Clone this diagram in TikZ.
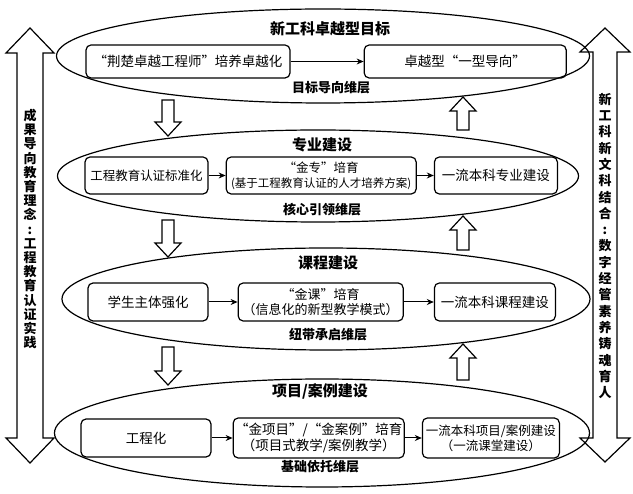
\documentclass[tikz,border=0pt]{standalone}
\usepackage{fontspec}
\setmainfont{Noto Sans CJK SC}
\usetikzlibrary{shapes,arrows.meta,positioning}
\tikzstyle{layer} = [ellipse, draw, line width=1.2pt, inner sep=0pt]
\tikzstyle{box}   = [rectangle, rounded corners=5pt, draw, line width=1.2pt,
                     align=center, inner sep=0pt, font=\fontsize{13.5}{15.5}\selectfont]
\tikzstyle{small} = [font=\fontsize{12.5}{15}\selectfont]
\tikzstyle{ptr}   = [draw, line width=1pt, -{Stealth[length=7pt,width=6pt]}]
\tikzstyle{ttl}   = [font=\fontsize{15}{17}\selectfont\bfseries]
\tikzstyle{lvl}   = [font=\fontsize{13}{15}\selectfont\bfseries]
\tikzstyle{blk}   = [draw, line width=1.2pt, fill=white]
\newcommand{\blkdown}[3]{% x, top, tip
  \draw[blk] (#1-6,#2) -- (#1+6,#2) -- (#1+6,#3-14) -- (#1+13,#3-14) -- (#1,#3)
    -- (#1-13,#3-14) -- (#1-6,#3-14) -- cycle;}
\newcommand{\blkup}[3]{% x, bottom, tip
  \draw[blk] (#1-6,#2) -- (#1+6,#2) -- (#1+6,#3+14) -- (#1+13,#3+14) -- (#1,#3)
    -- (#1-13,#3+14) -- (#1-6,#3+14) -- cycle;}
\newcommand{\sidearrow}[6]{% x, top tip, bottom tip, shaft half, head half, head length
  \draw[blk] (#1-#4,#2+#6) -- (#1-#5,#2+#6) -- (#1,#2) -- (#1+#5,#2+#6) -- (#1+#4,#2+#6)
    -- (#1+#4,#3-#6) -- (#1+#5,#3-#6) -- (#1,#3) -- (#1-#5,#3-#6) -- (#1-#4,#3-#6) -- cycle;}

\begin{document}
\begin{tikzpicture}[x=1pt, y=-1pt]
		\useasboundingbox (0,0) rectangle (633,494);

		% side arrows
		\sidearrow{30}{28}{463}{13}{24}{25}
		\sidearrow{605}{28}{462}{12}{25}{24}
		\node[align=center, font=\fontsize{13}{14.2}\selectfont\bfseries] (leftnote) at (30,229)
			{成\\果\\导\\向\\教\\育\\理\\念\\:\\工\\程\\教\\育\\认\\证\\实\\践};
		\node[align=center, font=\fontsize{13}{16.3}\selectfont\bfseries] (rightnote) at (605,246)
			{新\\工\\科\\新\\文\\科\\结\\合\\:\\数\\字\\经\\管\\素\\养\\铸\\魂\\育\\人};

		% layers
		\node[layer, minimum width=533pt, minimum height=94pt] (goal) at (323,56) {};
		\node[layer, minimum width=521pt, minimum height=92pt] (major) at (318,176) {};
		\node[layer, minimum width=528pt, minimum height=102pt] (course) at (326,299) {};
		\node[layer, minimum width=535pt, minimum height=108pt] (project) at (322,433) {};

		\node[ttl] (goalt) at (330,29) {新工科卓越型目标};
		\node[lvl] (goall) at (331,88) {目标导向维层};
		\node[box, minimum width=204pt, minimum height=33pt] (g1) at (188,61.5) {“荆楚卓越工程师”培养卓越化};
		\node[box, minimum width=202pt, minimum height=33pt, right=73pt of g1] (g2) {卓越型“一型导向”};
		\draw[ptr] (g1) -- (g2);

		\node[ttl] (majort) at (322,145) {专业建设};
		\node[lvl] (majorl) at (322,210) {核心引领维层};
		\node[box, small, minimum width=123pt, minimum height=37pt] (m1) at (146.5,175.5) {工程教育认证标准化};
		\node[box, small, minimum width=190pt, minimum height=37pt, right=17pt of m1] (m2)
			{“金专”培育\\{\fontsize{11.5}{13}\selectfont(基于工程教育认证的人才培养方案)}};
		\node[box, minimum width=123pt, minimum height=37pt, right=17pt of m2] (m3) {一流本科专业建设};
		\draw[ptr] (m1) -- (m2);
		\draw[ptr] (m2) -- (m3);

		\node[ttl] (courset) at (328,263) {课程建设};
		\node[lvl] (coursel) at (328,335) {纽带承启维层};
		\node[box, minimum width=120pt, minimum height=38pt] (c1) at (148,302) {学生主体强化};
		\node[box, font=\fontsize{13}{15.5}\selectfont, minimum width=165pt, minimum height=38pt, right=29pt of c1] (c2)
			{“金课”培育\\（信息化的新型教学模式）};
		\node[box, minimum width=121pt, minimum height=38pt, right=30pt of c2] (c3) {一流本科课程建设};
		\draw[ptr] (c1) -- (c2);
		\draw[ptr] (c2) -- (c3);

		\node[ttl] (projectt) at (320,391) {项目/案例建设};
		\node[lvl] (projectl) at (320,467) {基础依托维层};
		\node[box, minimum width=130pt, minimum height=38pt] (p1) at (146,438) {工程化};
		\node[box, minimum width=171pt, minimum height=40pt, right=21pt of p1] (p2)
			{“金项目”/“金案例”培育\\（项目式教学/案例教学）};
		\node[box, small, minimum width=137pt, minimum height=40pt, right=17pt of p2] (p3)
			{一流本科项目/案例建设\\（一流课堂建设）};
		\draw[ptr] (p1) -- (p2);
		\draw[ptr] (p2) -- (p3);

		% block arrows between layers
		\blkdown{168}{100}{136}
		\blkdown{168}{220}{257}
		\blkdown{168}{347}{385}
		\blkup{463}{130}{97}
		\blkup{463}{250}{216}
		\blkup{463}{380}{344}
	\end{tikzpicture}
\end{document}
